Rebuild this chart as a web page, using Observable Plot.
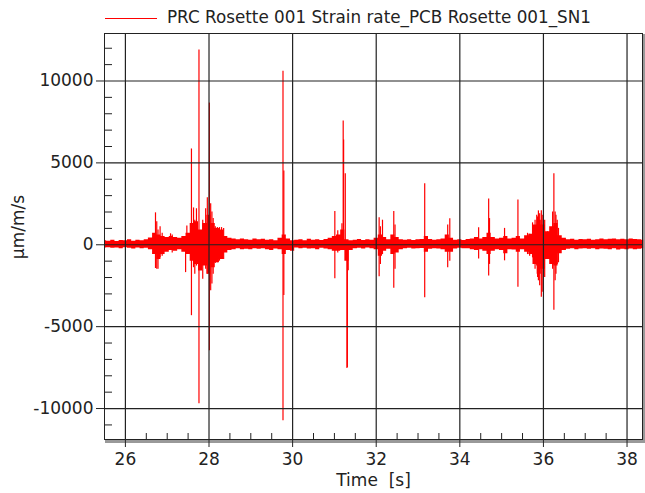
<!DOCTYPE html>
<html>
<head>
<meta charset="utf-8">
<script src="https://cdn.jsdelivr.net/npm/d3@7"></script>
<script src="https://cdn.jsdelivr.net/npm/@observablehq/plot@0.6"></script>
<style>
  body { margin: 0; background: #fff; font-family: "DejaVu Sans", sans-serif; }
  #wrap { position: relative; width: 645px; height: 493px; }
  #legend { position: relative; height: 30px; width: 645px; }
  #legend .ln { position: absolute; left: 105px; top: 18px; width: 52px; height: 0; border-top: 1px solid #ff0000; }
  #legend .tx { position: absolute; left: 167px; top: 7px; font-size: 16.8px; color: #222; white-space: pre; }
  #ylab { position: absolute; left: 18px; top: 227px; transform: translate(-50%, -50%) rotate(-90deg); font-size: 17px; color: #222; white-space: pre; }
</style>
</head>
<body>
<div id="wrap">
  <div id="legend"><div class="ln"></div><div class="tx">PRC Rosette 001 Strain rate_PCB Rosette 001_SN1</div></div>
  <div id="chart"></div>
  <div id="ylab">µm/m/s</div>
</div>
<script>
// Sampling grid of the noise envelope (s)
const envStart = 25.5, envStep = 0.1;
// Upper / lower envelope of the signal (µm/m/s), one per sample
const envHi = [
  250,220,280,200,260,240,300,220,280,250,
  300,420,700,600,500,450,500,450,400,500,
  700,1300,1400,900,1300,1800,1300,1000,900,500,
  400,350,300,350,300,280,350,300,330,280,
  300,250,400,600,350,250,280,300,250,330,
  280,300,260,320,400,500,600,900,300,250,
  280,320,260,300,280,400,600,450,300,600,
  450,300,280,300,260,300,320,500,320,280,
  300,350,600,400,280,300,260,320,350,450,
  350,450,700,450,350,400,500,350,400,500,
  350,550,650,1200,1500,1200,800,1100,1300,550,
  400,300,330,280,320,300,340,280,300,350,
  300,330,350,300,340,300,350,320,300,280
];
const envLo = [
  -200,-180,-220,-200,-250,-180,-220,-260,-200,-240,
  -220,-300,-600,-900,-600,-450,-350,-400,-300,-450,
  -600,-1000,-1200,-1600,-1300,-1800,-1400,-1100,-900,-500,
  -350,-300,-250,-300,-280,-300,-250,-280,-250,-300,
  -350,-260,-300,-600,-350,-400,-200,-250,-220,-260,
  -240,-300,-220,-260,-300,-400,-400,-350,-1000,-350,
  -250,-220,-260,-200,-250,-300,-700,-400,-280,-600,
  -500,-300,-250,-220,-260,-250,-230,-450,-280,-250,
  -260,-300,-450,-450,-260,-220,-250,-240,-300,-350,
  -300,-400,-600,-400,-300,-350,-550,-300,-320,-450,
  -300,-450,-600,-1200,-1800,-1500,-900,-1200,-1300,-550,
  -350,-280,-250,-300,-260,-250,-280,-240,-300,-260,
  -280,-300,-250,-320,-280,-300,-260,-300,-280,-250
];

// Individual spikes: time (s), peak max, peak min (µm/m/s)
const spikeT  = [26.72,26.75,26.78,26.83,26.88,27.08,27.12,27.44,27.47,27.58,27.63,27.66,27.70,27.76,27.85,27.92,27.96,28.01,28.04,28.07,28.10,28.15,28.20,28.25,28.30,28.35,29.77,29.79,31.01,31.08,31.18,31.21,31.22,31.26,31.30,31.31,31.33,32.07,32.10,32.15,32.42,32.45,33.16,33.71,33.76,34.45,34.69,34.71,35.07,35.39,35.62,35.67,35.74,35.80,35.84,35.86,35.88,35.91,35.95,35.97,36.00,36.03,36.10,36.22,36.25,36.28,36.30,36.33,36.36];
const spikeHi = [1950,1400,900,1100,700,670,600,300,1150,5850,2250,1500,2200,11900,1500,2200,2870,8650,2500,2000,1600,1100,1050,1050,1050,1000,10600,4500,2030,850,1280,7560,6400,4330,200,200,200,1650,1100,1500,2030,1200,3720,1200,1590,1040,2800,1600,1000,2740,700,650,1340,1500,1800,1700,2070,1900,2070,1800,1500,1500,800,2000,4330,2000,1800,1500,1000];
const spikeLo = [-1450,-1500,-1500,-800,-700,-300,-500,-1700,-300,-4330,-1400,-1800,-1300,-9700,-2100,-1500,-1800,-6470,-2800,-2400,-1800,-1150,-1100,-1000,-900,-900,-10750,-3100,-2070,-500,-300,-200,-200,-300,-7560,-7500,-1590,-1950,-1200,-600,-2660,-1500,-3230,-1400,-1000,-870,-1900,-1200,-980,-2600,-600,-700,-800,-1500,-1300,-2000,-2200,-2500,-3200,-2900,-1800,-2000,-800,-1500,-4000,-2200,-1800,-1200,-1100];

const xTicks = [26, 28, 30, 32, 34, 36, 38];
const xMinor = [26.5,27,27.5,28.5,29,29.5,30.5,31,31.5,32.5,33,33.5,34.5,35,35.5,36.5,37,37.5];
const yTicks = [-10000, -5000, 0, 5000, 10000];
const yMinor = [-11000,-9000,-8000,-7000,-6000,-4000,-3000,-2000,-1000,1000,2000,3000,4000,6000,7000,8000,9000,11000,12000];

const env = envHi.map((h, i) => ({t: envStart + i * envStep, hi: h, lo: envLo[i]}));
const spikes = spikeT.map((t, i) => ({t, hi: spikeHi[i], lo: spikeLo[i]}));

const W = 645, H = 463, mL = 104, mR = 3, mT = 3, mB = 54;
const fw = W - mL - mR, fh = H - mT - mB;

const chart = Plot.plot({
  width: W, height: H,
  marginLeft: mL, marginRight: mR, marginTop: mT, marginBottom: mB,
  style: {fontFamily: "DejaVu Sans, sans-serif", fontSize: "17px", color: "#222", background: "#fff"},
  x: {domain: [25.5, 38.37]},
  y: {domain: [-11890, 12900]},
  marks: [
    Plot.frame({stroke: "#999", strokeWidth: 3, dx: 2, dy: 2}),
    Plot.frame({fill: "#fff", stroke: null}),
    Plot.areaY(env, {x: "t", y1: "lo", y2: "hi", fill: "#ff0000", curve: "step"}),
    Plot.ruleX(spikes, {x: "t", y1: "lo", y2: "hi", stroke: "#ff0000", strokeWidth: 1.2}),
    Plot.ruleX(xTicks, {stroke: "#222", strokeWidth: 1.2}),
    Plot.ruleY(yTicks, {stroke: "#222", strokeWidth: 1.2}),
    Plot.tickX(xMinor, {stroke: "#222", insetTop: fh - 6}),
    Plot.tickY(yMinor, {stroke: "#222", insetRight: fw - 8}),
    Plot.axisX(xTicks, {tickSize: 8, tickPadding: 5, tickFormat: d => String(d), label: null, stroke: "#222", fill: "#222"}),
    Plot.axisY(yTicks, {tickSize: 8, tickPadding: 3, tickFormat: d => String(d), label: null, stroke: "#222", fill: "#222"}),
    Plot.frame({stroke: "#222", strokeWidth: 1}),
    Plot.text(["Time\u00a0\u00a0[s]"], {frameAnchor: "bottom", dy: 46, fill: "#222", fontSize: 17})
  ]
});
document.getElementById("chart").appendChild(chart);
</script>
</body>
</html>
